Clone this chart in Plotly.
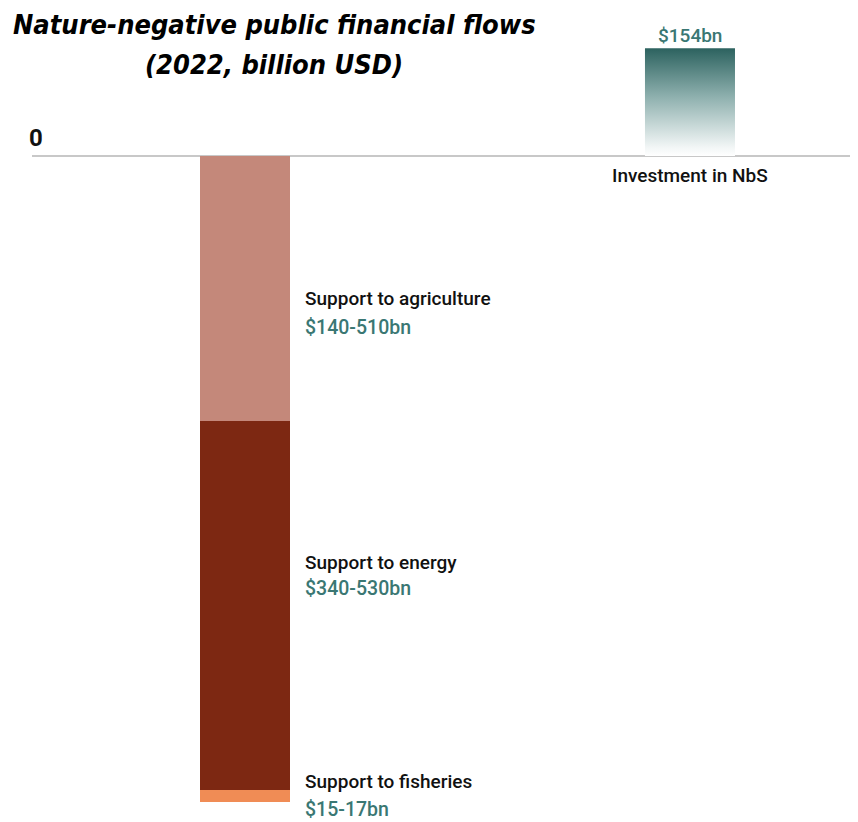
import plotly.graph_objects as go

# ---- data (billion USD, bar lengths) ----
nbs_label = "Investment in NbS"
nbs_value = 154
nbs_text = "$154bn"

flow_labels = ["Support to agriculture", "Support to energy", "Support to fisheries"]
flow_values = [378, 527, 18]          # drawn bar lengths (negative direction)
flow_texts = ["$140-510bn", "$340-530bn", "$15-17bn"]
flow_colors = ["#c4887a", "#7d2812", "#f08c55"]

title_lines = ["Nature-negative public financial flows", "(2022, billion USD)"]

OFF = 8                      # page body margin
PW, PH = 858, 822            # page (window) size
W, H = PW - OFF, PH - OFF    # figure size
TEAL = "#3a7773"
BAR_W = 0.2023
L = 32 - OFF                 # left edge of plot area in figure px

fig = go.Figure()

for lab, val, col in zip(flow_labels, flow_values, flow_colors):
    fig.add_trace(go.Bar(x=[0], y=[-val], width=BAR_W, name=lab,
                         marker=dict(color=col, line=dict(width=0)),
                         hoverinfo="name+y"))

x0, x1 = 1 - BAR_W / 2, 1 + BAR_W / 2
fig.add_trace(go.Scatter(
    x=[x0, x1, x1, x0, x0], y=[0, 0, nbs_value, nbs_value, 0],
    mode="lines", line=dict(width=0), fill="toself",
    fillgradient=dict(type="vertical",
                      colorscale=[[0, "rgba(255,255,255,1)"], [0.08, "#f2f6f6"],
                                  [0.55, "#8eb0ae"], [1, "#2c625f"]]),
    name=nbs_label, hoverinfo="name"))

def py(p):   # page px -> paper y
    return 1 - (p - OFF) / H

def px(p):   # page px -> paper x
    return (p - OFF - L) / (W - L)

ann = []
ann.append(dict(x=px(274), y=1.0, yanchor="top", text="<b><i>" + title_lines[0] + "</i></b>"))
ann.append(dict(x=px(274), y=py(64), yanchor="middle", text="<b><i>" + title_lines[1] + "</i></b>"))
for a in ann:
    a.update(xref="paper", yref="paper", showarrow=False, xanchor="center",
             borderpad=0,
             font=dict(family="DejaVu Sans Condensed", size=27, color="#000000"))

ann.append(dict(x=px(27), y=py(138), xref="paper", yref="paper", showarrow=False,
                xanchor="left", yanchor="middle", text="<b>0</b>",
                font=dict(family="Roboto", size=24, color="#111111")))

ann.append(dict(x=px(690), y=py(36), xref="paper", yref="paper", showarrow=False,
                xanchor="center", yanchor="middle", text=nbs_text,
                font=dict(family="Roboto", size=19, color=TEAL, weight=500)))
ann.append(dict(x=px(690), y=py(176), xref="paper", yref="paper", showarrow=False,
                xanchor="center", yanchor="middle", text=nbs_label,
                font=dict(family="Roboto", size=19, color="#111111", weight=500)))

label_y = [(298, 327), (562, 588), (781, 809)]
for lab, txt, (y1, y2) in zip(flow_labels, flow_texts, label_y):
    ann.append(dict(x=px(303), y=py(y1), xref="paper", yref="paper", showarrow=False,
                    xanchor="left", yanchor="middle", text=lab,
                    font=dict(family="Roboto", size=19, color="#111111", weight=500)))
    ann.append(dict(x=px(303), y=py(y2), xref="paper", yref="paper", showarrow=False,
                    xanchor="left", yanchor="middle", text=txt,
                    font=dict(family="Roboto", size=19.5, color=TEAL, weight=500)))

scale = 0.70
zero_y = 156 - OFF
fig.update_layout(
    width=W, height=H,
    margin=dict(l=L, r=0, t=0, b=0),
    paper_bgcolor="white", plot_bgcolor="white",
    barmode="relative", bargap=0,
    showlegend=False,
    annotations=ann,
    xaxis=dict(range=[-0.4787, 1.3776], visible=False, fixedrange=True),
    yaxis=dict(range=[-(H - zero_y) / scale, zero_y / scale], showgrid=False,
               showticklabels=False, ticks="", zeroline=True,
               zerolinecolor="#c8c8c8", zerolinewidth=1.5, fixedrange=True),
)

fig.write_html("out.html")
